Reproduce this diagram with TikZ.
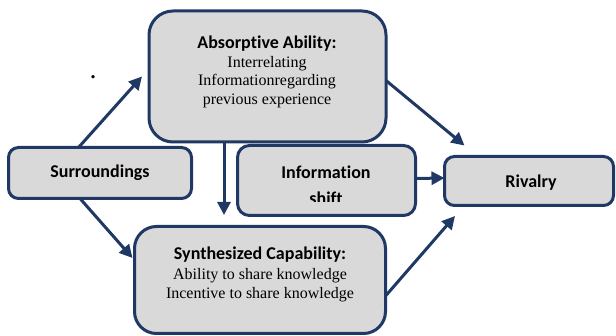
\documentclass[tikz,border=0pt]{standalone}
\usepackage{fontspec}
\setmainfont{Liberation Serif}
\newfontfamily\carlito[Ligatures=NoCommon]{Carlito}
\usetikzlibrary{arrows.meta}
\definecolor{navy}{HTML}{1F3864}
\definecolor{boxfill}{HTML}{D9D9D9}
\begin{document}
\begin{tikzpicture}[x=1pt,y=-1pt,
  box/.style={draw=navy, fill=boxfill, line width=3pt, inner sep=0pt, outer sep=0pt},
  arr/.style={draw=navy, line width=3pt, -{Triangle[length=13pt,width=13pt]}},
  ttl/.style={font=\carlito\bfseries\fontsize{18}{22}\selectfont, inner sep=0pt},
  body/.style={align=center, font=\fontsize{16}{18.5}\selectfont, inner sep=0pt}]
\useasboundingbox (0,0) rectangle (616,336);
% boxes
\node[box, rounded corners=24pt, minimum width=237pt, minimum height=131pt] (absorb) at (267.5,76.5) {};
\node[box, rounded corners=10pt, minimum width=183pt, minimum height=51pt] (surr) at (100,173) {};
\node[box, rounded corners=12pt, minimum width=178pt, minimum height=70pt] (info) at (326.5,180.5) {};
\node[box, rounded corners=10pt, minimum width=169pt, minimum height=49pt] (riv) at (529,181) {};
\node[box, rounded corners=22pt, minimum width=251pt, minimum height=107pt] (synth) at (260,280) {};
% texts
\node[body] (absorbtxt) at (267,72) {{\carlito\bfseries\fontsize{18}{18.5}\selectfont Absorptive Ability:}\\Interrelating\\Informationregarding\\previous experience};
\node[ttl] (surrtxt) at (100,173) {Surroundings};
\node[ttl] (rivtxt) at (531,183) {Rivalry};
\begin{scope}
  \clip (236,140) rectangle (417,202);
  \node[ttl, align=center, font=\carlito\bfseries\fontsize{18}{26}\selectfont] (infotxt) at (326,185) {Information\\shift};
\end{scope}
\node[body] (synthtxt) at (260,274) {{\carlito\bfseries\fontsize{18}{18.5}\selectfont Synthesized Capability:}\\[2pt]Ability to share knowledge\\Incentive to share knowledge};
\node[inner sep=0pt, font=\bfseries\fontsize{20}{20}\selectfont] (dot) at (93,77) {.};
% arrows
\draw[arr] ([xshift=70pt]surr.north west) -- ([xshift=-7pt]absorb.west);
\draw[arr] ([yshift=-4pt]absorb.east) -- ([xshift=20pt,yshift=11pt]riv.north west);
\draw[arr] ([xshift=75pt]absorb.south west) -- ([xshift=89.5pt,yshift=11.5pt]synth.north west);
\draw[arr] ([xshift=71.5pt]surr.south west) -- ([xshift=-2pt,yshift=22pt]synth.west);
\draw[arr] ([yshift=2pt]info.east) -- ([yshift=3pt]riv.west);
\draw[arr] ([yshift=-16pt]synth.east) -- ([xshift=10.5pt,yshift=-10.5pt]riv.south west);
\end{tikzpicture}
\end{document}
